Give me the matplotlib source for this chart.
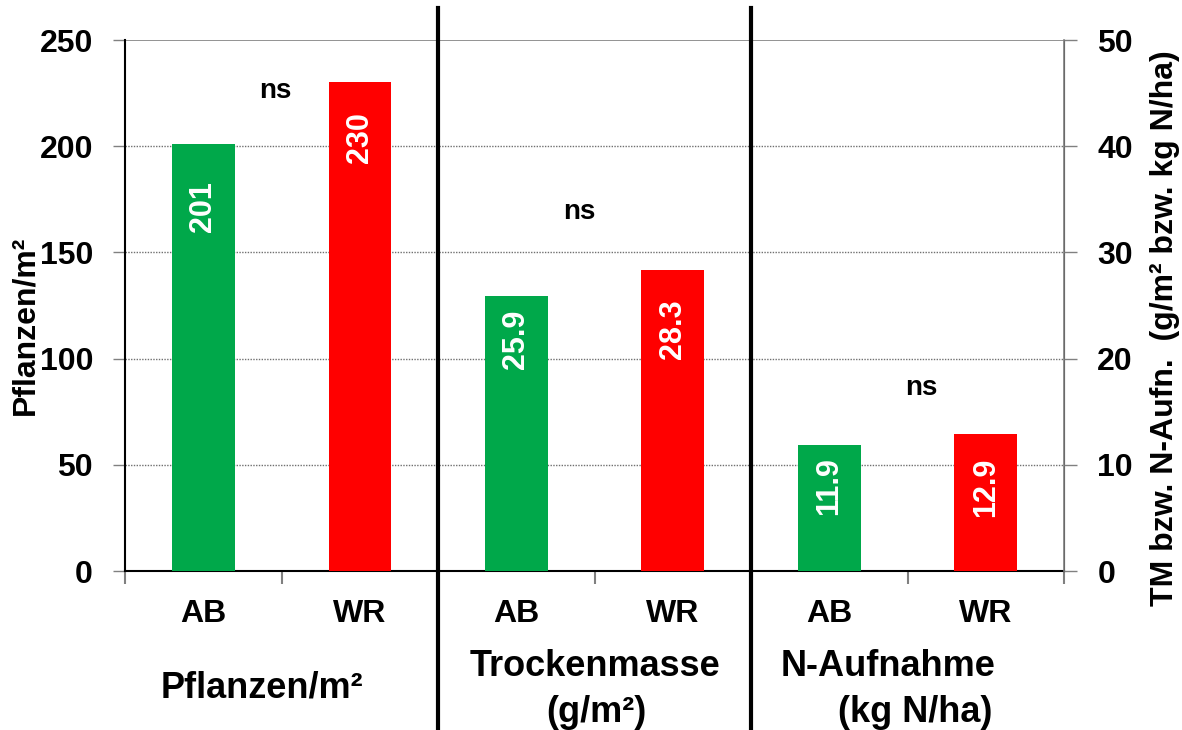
import matplotlib
matplotlib.use('Agg')
import matplotlib.pyplot as plt

plt.rcParams['font.family'] = ['Liberation Sans', 'DejaVu Sans']
plt.rcParams['font.weight'] = 'bold'

# data
categories = ['AB', 'WR', 'AB', 'WR', 'AB', 'WR']
plants = [201, 230]          # Pflanzen/m² (left axis)
dry_matter = [25.9, 28.3]    # Trockenmasse g/m² (right axis)
n_uptake = [11.9, 12.9]      # N-Aufnahme kg N/ha (right axis)
left_ticks = [0, 50, 100, 150, 200, 250]
right_ticks = [0, 10, 20, 30, 40, 50]

green = '#00A84A'
red = '#FF0000'
colors = [green, red]
label_offsets = [27, 21, 10, 21, 9, 17]   # points below bar top

fig = plt.figure(figsize=(11.82, 7.30), dpi=100)
ax = fig.add_axes([0.1058, 0.2178, 0.7944, 0.7274])
ax2 = ax.twinx()

w = 0.4
b1 = ax.bar([0, 1], plants, width=w, color=colors, zorder=3)
b2 = ax2.bar([2, 3], dry_matter, width=w, color=colors, zorder=3)
b3 = ax2.bar([4, 5], n_uptake, width=w, color=colors, zorder=3)

ax.set_ylim(0, 250)
ax2.set_ylim(0, 50)
ax.set_xlim(-0.5, 5.5)
ax.set_yticks(left_ticks)
ax2.set_yticks(right_ticks)

# grid
ax.set_axisbelow(True)
for t in left_ticks[1:-1]:
    ax.axhline(t, color='#707070', lw=1.0, ls=(0, (1, 1)), zorder=1)
ax.axhline(250, color='#808080', lw=1.2, zorder=1)

# x ticks: boundaries as major, category names as minor
ax.set_xticks([i - 0.5 for i in range(7)])
ax.set_xticklabels([''] * 7)
ax.set_xticks(range(6), minor=True)
ax.set_xticklabels(categories, minor=True)
ax.tick_params(axis='x', which='major', direction='out', length=9, color='#808080', width=1.5)
ax.tick_params(axis='x', which='minor', length=0, pad=20, labelsize=23)
ax.tick_params(axis='y', direction='out', length=9, color='#808080', width=1, pad=14, labelsize=23)
ax2.tick_params(axis='y', direction='out', length=9, color='#808080', width=1, pad=15, labelsize=23)
for lab in ax.get_xticklabels(minor=True) + ax.get_yticklabels() + ax2.get_yticklabels():
    lab.set_fontweight('bold')

for a in (ax, ax2):
    a.spines['top'].set_visible(False)
ax.spines['left'].set_color('black')
ax.spines['left'].set_linewidth(1.5)
ax.spines['bottom'].set_color('black')
ax.spines['bottom'].set_linewidth(1.5)
ax2.spines['right'].set_color('#808080')
ax2.spines['right'].set_linewidth(1.2)
ax2.spines['left'].set_visible(False)
ax2.spines['bottom'].set_visible(False)

# axis titles
fig.text(25 / 1182, 1 - 325 / 730, 'Pflanzen/m²', rotation=90, ha='center',
         va='center', fontsize=23, fontweight='bold')
fig.text(1165 / 1182, 1 - 328 / 730, 'TM bzw. N-Aufn.  (g/m² bzw. kg N/ha)',
         rotation=90, ha='center', va='center', fontsize=23, fontweight='bold')

# value labels inside bars
all_bars = list(b1) + list(b2) + list(b3)
values = plants + dry_matter + n_uptake
for i, (bar, v, off) in enumerate(zip(all_bars, values, label_offsets)):
    a = ax if i < 2 else ax2
    a.annotate(f'{v:g}', (bar.get_x() + bar.get_width() / 2, bar.get_height()),
               xytext=(0, -off), textcoords='offset points', rotation=90,
               ha='center', va='top', color='white', fontsize=22,
               fontweight='bold', zorder=4)

# significance marks
ax.text(0.46, 226, 'ns', ha='center', va='center', fontsize=20, fontweight='bold')
ax2.text(2.4, 33.8, 'ns', ha='center', va='center', fontsize=20, fontweight='bold')
ax2.text(4.59, 17.2, 'ns', ha='center', va='center', fontsize=20, fontweight='bold')

# group separators
tr = ax.get_xaxis_transform()
for xs in (1.5, 3.5):
    ax.plot([xs, xs], [-0.296, 1.06], color='black', lw=3, transform=tr,
            clip_on=False, zorder=5)

# group labels
ax.text(0.375, -0.220, 'Pflanzen/m²', transform=tr, ha='center', va='center',
        fontsize=26, fontweight='bold')
ax.text(2.5, -0.179, 'Trockenmasse', transform=tr, ha='center', va='center',
        fontsize=26, fontweight='bold')
ax.text(2.51, -0.266, '(g/m²)', transform=tr, ha='center', va='center',
        fontsize=26, fontweight='bold')
ax.text(4.375, -0.179, 'N-Aufnahme', transform=tr, ha='center', va='center',
        fontsize=26, fontweight='bold')
ax.text(4.55, -0.266, '(kg N/ha)', transform=tr, ha='center', va='center',
        fontsize=26, fontweight='bold')

fig.savefig('out.png', dpi=100)
